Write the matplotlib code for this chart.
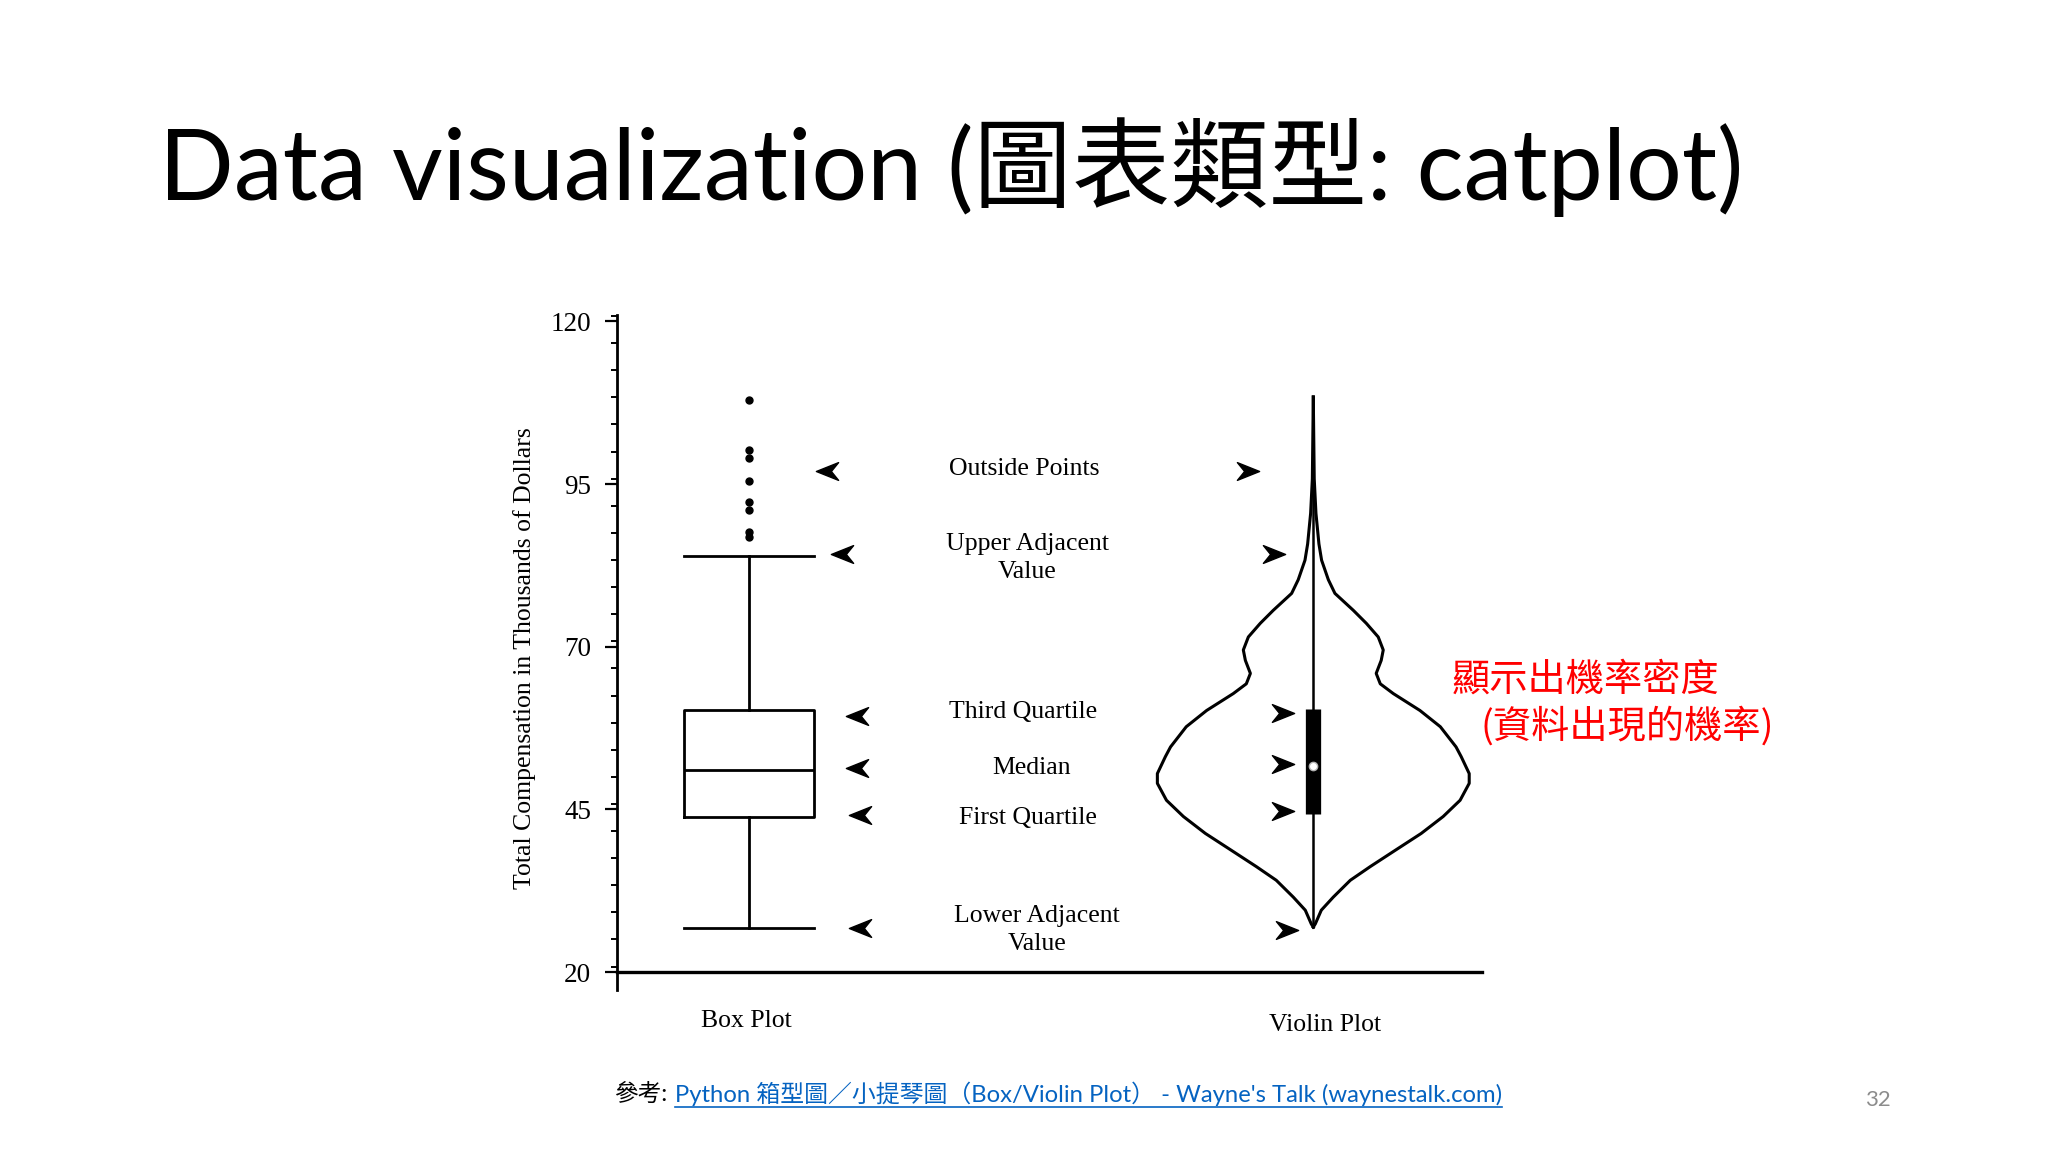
import numpy as np
import matplotlib
matplotlib.use('Agg')
import matplotlib.pyplot as plt
from matplotlib.path import Path
from matplotlib.lines import Line2D
from matplotlib.ticker import MultipleLocator

# 箱型圖 (數值由圖估計)
box_q1 = 43.8
box_med = 51.0
box_q3 = 60.3
box_lo = 26.7
box_hi = 84.0
box_out = [108.0, 100.3, 99.0, 95.4, 92.2, 91.0, 87.7, 86.8]

# 小提琴圖: 輪廓 (數值, 相對寬度) 與內部箱型
violin_val = [108.4, 95.8, 90.5, 85.8, 83.3, 80.3, 78.2, 75.6, 73.6, 71.5, 69.5, 67.9,
              65.9, 64.3, 62.8, 60.2, 57.7, 54.6, 53.1, 50.5, 49.0, 46.4, 43.9, 41.3,
              38.7, 36.2, 34.1, 31.5, 29.5, 27.4, 26.9]
violin_w = [0, 0.006, 0.017, 0.036, 0.053, 0.096, 0.138, 0.255, 0.338, 0.414, 0.446, 0.433,
            0.401, 0.427, 0.51, 0.68, 0.81, 0.91, 0.943, 0.994, 0.994, 0.936, 0.828, 0.688,
            0.522, 0.363, 0.236, 0.127, 0.051, 0.013, 0]
violin_q1 = 44.3
violin_med = 51.7
violin_q3 = 60.4
violin_lo = 26.9
violin_hi = 108.4

# 說明文字與箭頭
labels = ['Outside Points', 'Upper Adjacent\nValue', 'Third Quartile', 'Median',
          'First Quartile', 'Lower Adjacent\nValue']
label_y = [97.3, 83.6, 60.0, 51.3, 43.7, 26.5]
label_x = [1.488, 1.493, 1.486, 1.50, 1.495, 1.51]
arrow_box_x = [1.139, 1.164, 1.192, 1.192, 1.196, 1.196]
arrow_box_y = [97.0, 84.3, 59.4, 51.3, 44.1, 26.8]
arrow_vio_x = [1.885, 1.931, 1.946, 1.946, 1.946, 1.954]
arrow_vio_y = [97.0, 84.3, 59.8, 51.9, 44.8, 26.5]

yticks = [20, 45, 70, 95, 120]

W, H = 2048, 1152
fig = plt.figure(figsize=(20.48, 11.52), dpi=100)
fig.patch.set_facecolor('white')

sans = ['Lato', 'Noto Sans CJK TC']
cjk = ['Noto Sans CJK TC', 'DejaVu Sans']
serif = 'Liberation Serif'

fig.text(159 / W, 1 - 200 / H, 'Data visualization (圖表類型: catplot)', fontsize=70.8,
         family=sans, va='baseline', ha='left')

ax = fig.add_axes([617 / W, 0.141, 865 / W, 0.5856])
ax.set_xlim(0.766, 2.299)
ax.set_ylim(17.3, 121)
for s in ['top', 'right']:
    ax.spines[s].set_visible(False)
ax.spines['bottom'].set_position(('data', 20))
ax.spines['bottom'].set_linewidth(2.4)
ax.spines['left'].set_linewidth(2)
ax.set_xticks([])
ax.set_yticks(yticks)
ax.yaxis.set_minor_locator(MultipleLocator(25 / 6))
ax.tick_params(axis='y', which='major', length=8.5, width=1.6, pad=10, labelsize=19.5)
ax.tick_params(axis='y', which='minor', length=4, width=1.4)
for t in ax.get_yticklabels():
    t.set_family(serif)

ax.text(-0.107, 0.492, 'Total Compensation in Thousands of Dollars', transform=ax.transAxes,
        rotation=90, ha='center', va='center', family=serif, fontsize=18.5)

# 箱型圖
stats = [dict(med=box_med, q1=box_q1, q3=box_q3, whislo=box_lo, whishi=box_hi,
              fliers=box_out, label='')]
lp = dict(color='black', linewidth=2)
ax.bxp(stats, positions=[1], widths=0.23, capwidths=0.23, showfliers=True,
       boxprops=lp, whiskerprops=lp, capprops=lp, medianprops=lp,
       flierprops=dict(marker='o', markersize=5, markerfacecolor='black',
                       markeredgecolor='black'), manage_ticks=False)

# 小提琴圖
vv = np.array(violin_val)
vw = np.array(violin_w) * 0.278
ax.plot(2 - vw, vv, color='black', lw=2.2)
ax.plot(2 + vw, vv, color='black', lw=2.2)
ax.plot([2, 2], [violin_lo, violin_hi], color='black', lw=1.8)
ax.plot([2, 2], [violin_q1, violin_q3], color='black', lw=11, solid_capstyle='butt')
ax.plot(2, violin_med, 'o', markerfacecolor='white', markeredgecolor='0.7', markersize=6)

# 箭頭
left_head = Path([(-1, 0), (1, 0.8), (0.35, 0), (1, -0.8), (-1, 0)],
                 [Path.MOVETO, Path.LINETO, Path.LINETO, Path.LINETO, Path.CLOSEPOLY])
right_head = Path([(1, 0), (-1, 0.8), (-0.35, 0), (-1, -0.8), (1, 0)],
                  [Path.MOVETO, Path.LINETO, Path.LINETO, Path.LINETO, Path.CLOSEPOLY])
ax.plot(arrow_box_x, arrow_box_y, linestyle='none', marker=left_head, markersize=16,
        color='black')
ax.plot(arrow_vio_x, arrow_vio_y, linestyle='none', marker=right_head, markersize=16,
        color='black')

for x, y, s in zip(label_x, label_y, labels):
    ax.text(x, y, s, ha='center', va='center', family=serif, fontsize=18.5, linespacing=1.37)

ax.text(0.995, 12.4, 'Box Plot', ha='center', va='center', family=serif, fontsize=18.5,
        clip_on=False)
ax.text(2.021, 11.8, 'Violin Plot', ha='center', va='center', family=serif, fontsize=18.5,
        clip_on=False)

# 紅色註解
fig.text(1452 / W, 1 - 680 / H, '顯示出機率密度', color='#ff0000', fontsize=27.5,
         family=cjk, va='center', ha='left')
fig.text(1480 / W, 1 - 727 / H, '(資料出現的機率)', color='#ff0000', fontsize=27.5,
         family=cjk, va='center', ha='left')

# 參考連結
fig.text(614 / W, 1 - 1094 / H, '參考:', fontsize=17, family=sans, va='center', ha='left')
link = fig.text(675 / W, 1 - 1094 / H,
                'Python 箱型圖／小提琴圖（Box/Violin Plot） - Wayne\'s Talk (waynestalk.com)',
                fontsize=17.2, family=sans, color='#0563c1', va='center', ha='left')
fig.text(1878 / W, 1 - 1100 / H, '32', fontsize=16, family=sans, color='#8c8c8c',
         va='center', ha='center')

fig.canvas.draw()
bb = link.get_window_extent(fig.canvas.get_renderer())
uy = (bb.y0 - 1) / H
fig.add_artist(Line2D([bb.x0 / W, bb.x1 / W], [uy, uy], color='#0563c1', lw=1.2))

fig.savefig('out.png', dpi=100, facecolor='white')
